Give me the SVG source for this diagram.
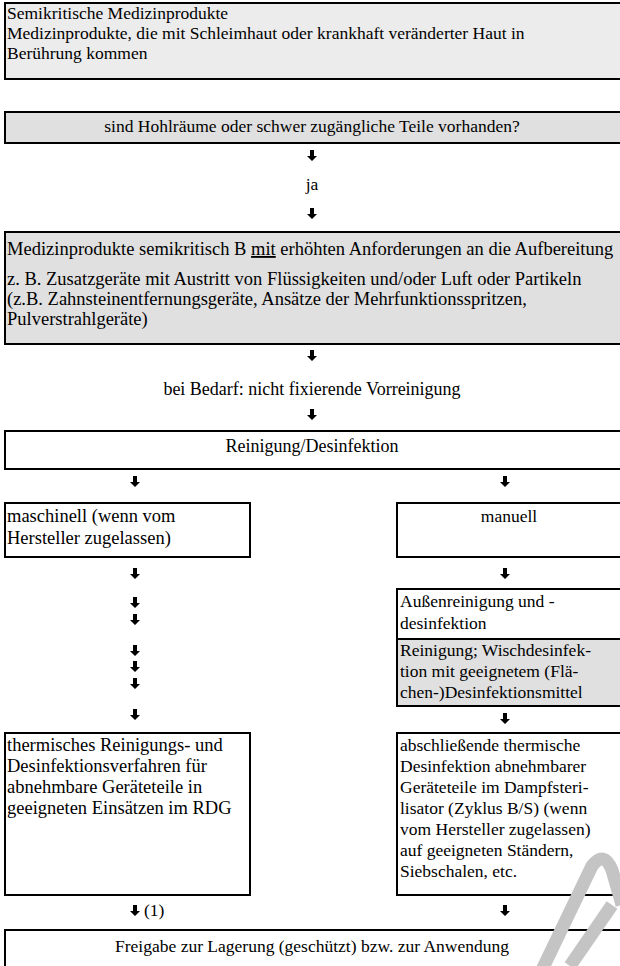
<svg xmlns="http://www.w3.org/2000/svg" xmlns:xlink="http://www.w3.org/1999/xlink" width="620" height="966" viewBox="0 0 620 966">
<style>
text{font-family:'Liberation Serif','Times New Roman',serif;font-size:17.5px;fill:#000}
.c{text-anchor:middle}
.l{font-size:18.5px}
.m{font-size:18px}
.box{stroke:#000;stroke-width:2}
.g1{fill:#ececec}
.g2{fill:#e0e0e0}
.w{fill:#fff}
.wm{fill:none;stroke:#c4c4c4;stroke-width:13;stroke-linecap:butt}
</style>
<defs>
<path id="arr" d="M-2,0 H2 V6 H5 L0,11 L-5,6 H-2 Z" fill="#000"/>
</defs>
<rect width="620" height="966" fill="#fff"/>
<g id="n1"><rect class="box g1" x="5" y="3" width="630" height="76"/>
<text x="7" y="19">Semikritische Medizinprodukte</text>
<text x="7" y="39">Medizinprodukte, die mit Schleimhaut oder krankhaft veränderter Haut in</text>
<text x="7" y="59">Berührung kommen</text></g>
<g id="n2"><rect class="box g2" x="5" y="112" width="630" height="31"/>
<text class="c" x="312" y="132">sind Hohlräume oder schwer zugängliche Teile vorhanden?</text></g>
<g id="n3"><text class="c" x="312" y="190">ja</text></g>
<g id="n4"><rect class="box g2" x="5" y="232" width="630" height="112"/>
<text class="l" x="7" y="255">Medizinprodukte semikritisch B <tspan text-decoration="underline">mit</tspan> erhöhten Anforderungen an die Aufbereitung</text>
<text class="l" x="7" y="285">z. B. Zusatzgeräte mit Austritt von Flüssigkeiten und/oder Luft oder Partikeln</text>
<text class="l" x="7" y="305">(z.B. Zahnsteinentfernungsgeräte, Ansätze der Mehrfunktionsspritzen,</text>
<text class="l" x="7" y="325">Pulverstrahlgeräte)</text></g>
<g id="n5"><text class="c m" x="312" y="395">bei Bedarf: nicht fixierende Vorreinigung</text></g>
<g id="n6"><rect class="box w" x="5" y="431" width="630" height="38"/>
<text class="c m" x="312" y="452">Reinigung/Desinfektion</text></g>
<g id="n7"><rect class="box w" x="5" y="503" width="245" height="54"/>
<text class="l" x="7" y="522">maschinell (wenn vom</text>
<text class="l" x="7" y="544">Hersteller zugelassen)</text></g>
<g id="n8"><rect class="box w" x="397" y="503" width="240" height="54"/>
<text class="c" x="509" y="522">manuell</text></g>
<g id="n9"><rect class="box w" x="397" y="589" width="240" height="50"/>
<text x="400" y="607">Außenreinigung und -</text>
<text x="400" y="629">desinfektion</text></g>
<g id="n10"><rect class="box g2" x="397" y="639" width="240" height="67"/>
<text x="400" y="656">Reinigung; Wischdesinfek-</text>
<text x="400" y="677">tion mit geeignetem (Flä-</text>
<text x="400" y="698">chen-)Desinfektionsmittel</text></g>
<g id="n11"><rect class="box w" x="5" y="733" width="245" height="162"/>
<text class="l" x="7" y="751">thermisches Reinigungs- und</text>
<text class="l" x="7" y="772">Desinfektionsverfahren für</text>
<text class="l" x="7" y="793">abnehmbare Geräteteile in</text>
<text class="l" x="7" y="814">geeigneten Einsätzen im RDG</text></g>
<g id="n12"><rect class="box w" x="397" y="733" width="240" height="162"/>
<text x="400" y="751">abschließende thermische</text>
<text x="400" y="772">Desinfektion abnehmbarer</text>
<text x="400" y="793">Geräteteile im Dampfsteri-</text>
<text x="400" y="814">lisator (Zyklus B/S) (wenn</text>
<text x="400" y="835">vom Hersteller zugelassen)</text>
<text x="400" y="856">auf geeigneten Ständern,</text>
<text x="400" y="877">Siebschalen, etc.</text></g>
<g id="n13"><rect class="box w" x="5" y="930" width="630" height="50"/>
<text class="c" x="312" y="952">Freigabe zur Lagerung (geschützt) bzw. zur Anwendung</text></g>
<g id="connectors">
<use xlink:href="#arr" x="312" y="150"/>
<use xlink:href="#arr" x="312" y="208"/>
<use xlink:href="#arr" x="312" y="350"/>
<use xlink:href="#arr" x="312" y="409"/>
<use xlink:href="#arr" x="135" y="476"/>
<use xlink:href="#arr" x="505" y="476"/>
<use xlink:href="#arr" x="135" y="568"/>
<use xlink:href="#arr" x="505" y="568"/>
<use xlink:href="#arr" x="135" y="597"/>
<use xlink:href="#arr" x="135" y="614"/>
<use xlink:href="#arr" x="135" y="645"/>
<use xlink:href="#arr" x="135" y="661"/>
<use xlink:href="#arr" x="135" y="678"/>
<use xlink:href="#arr" x="135" y="709"/>
<use xlink:href="#arr" x="505" y="713"/>
<use xlink:href="#arr" x="135" y="905"/>
<text x="144" y="916">(1)</text>
<use xlink:href="#arr" x="505" y="905"/>
</g>
<g id="watermark">
<path class="wm" d="M541,972 L592,866 Q604,850 612,870 L622,905"/>
<path class="wm" d="M570,966 L612,905"/>
</g>
</svg>
